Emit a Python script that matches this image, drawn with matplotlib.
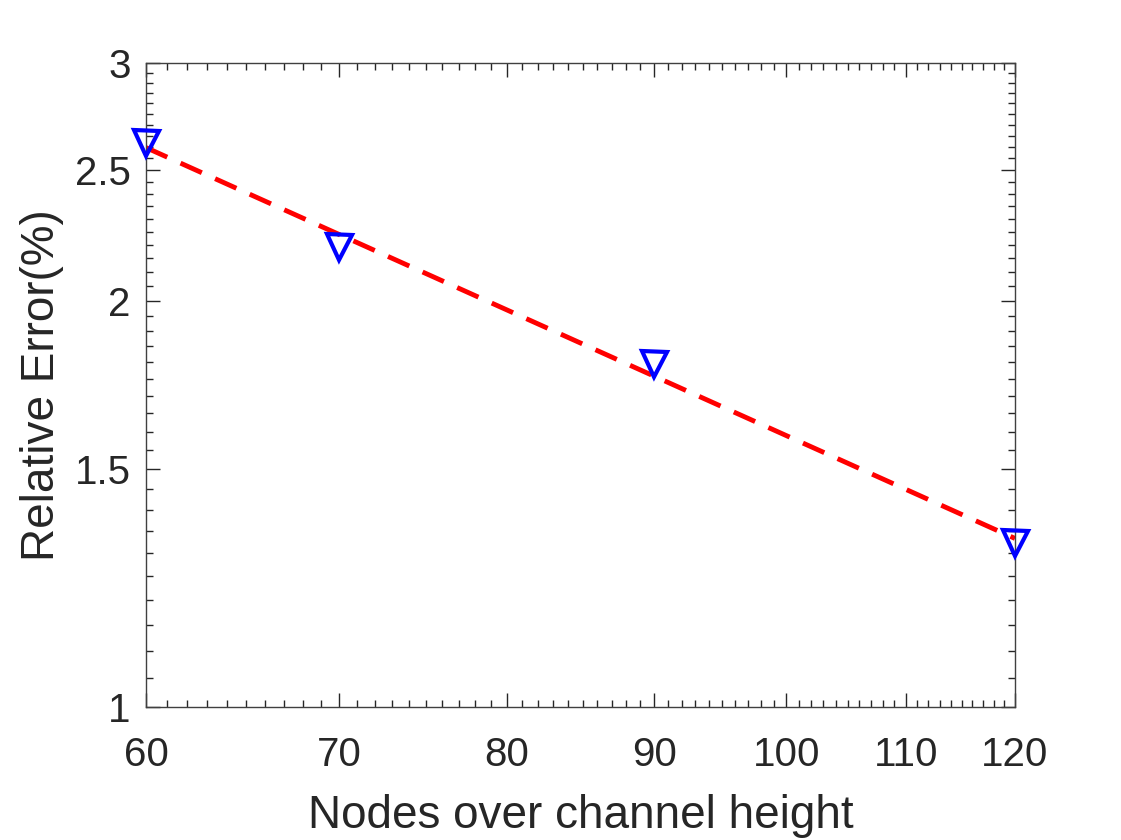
import numpy as np
import matplotlib
matplotlib.use('Agg')
import matplotlib.pyplot as plt
from matplotlib.ticker import FixedLocator, NullFormatter

# datos
nodos = [60, 70, 90, 120]
error_rel = [2.617, 2.192, 1.796, 1.323]

x_ticks = [60, 70, 80, 90, 100, 110, 120]
y_ticks = [1, 1.5, 2, 2.5, 3]

plt.rcParams['font.family'] = ['Liberation Sans', 'DejaVu Sans']

# ajuste potencial (recta en log-log)
p = np.polyfit(np.log(nodos), np.log(error_rel), 1)
x_fit = np.array([nodos[0], nodos[-1]])
y_fit = np.exp(np.polyval(p, np.log(x_fit)))

fig = plt.figure(figsize=(11.21, 8.4), dpi=100)
ax = fig.add_axes([0.1302, 0.1583, 0.7752, 0.7667])

ax.plot(x_fit, y_fit, color='red', lw=3.5, dashes=(4.8, 3), zorder=2)
ax.plot(nodos, error_rel, linestyle='none', marker='v', ms=18, mfc='none',
        mec='blue', mew=3, zorder=3, clip_on=False)

ax.set_xscale('log')
ax.set_yscale('log')
ax.set_xlim(60, 120)
ax.set_ylim(1, 3)

ax.xaxis.set_major_locator(FixedLocator(x_ticks))
ax.xaxis.set_ticklabels([str(t) for t in x_ticks])
ax.xaxis.set_minor_locator(FixedLocator(np.arange(60, 121, 1)))
ax.xaxis.set_minor_formatter(NullFormatter())
ax.yaxis.set_major_locator(FixedLocator(y_ticks))
ax.yaxis.set_ticklabels(['1', '1.5', '2', '2.5', '3'])
ax.yaxis.set_minor_locator(FixedLocator(np.arange(1, 3.001, 0.05)))
ax.yaxis.set_minor_formatter(NullFormatter())

ax.tick_params(which='both', direction='in', top=True, right=True,
               labelsize=29, colors='#262626', width=1)
ax.tick_params(which='major', length=10)
ax.tick_params(which='minor', length=5)
ax.tick_params(axis='x', which='major', pad=21)
ax.tick_params(axis='y', which='major', pad=11)
for s in ax.spines.values():
    s.set_color('#404040')
    s.set_linewidth(1)

ax.set_xlabel('Nodes over channel height', fontsize=33, color='#262626', labelpad=14)
ax.set_ylabel('Relative Error(%)', fontsize=33, color='#262626', labelpad=8)

fig.savefig('out.png', dpi=100)
